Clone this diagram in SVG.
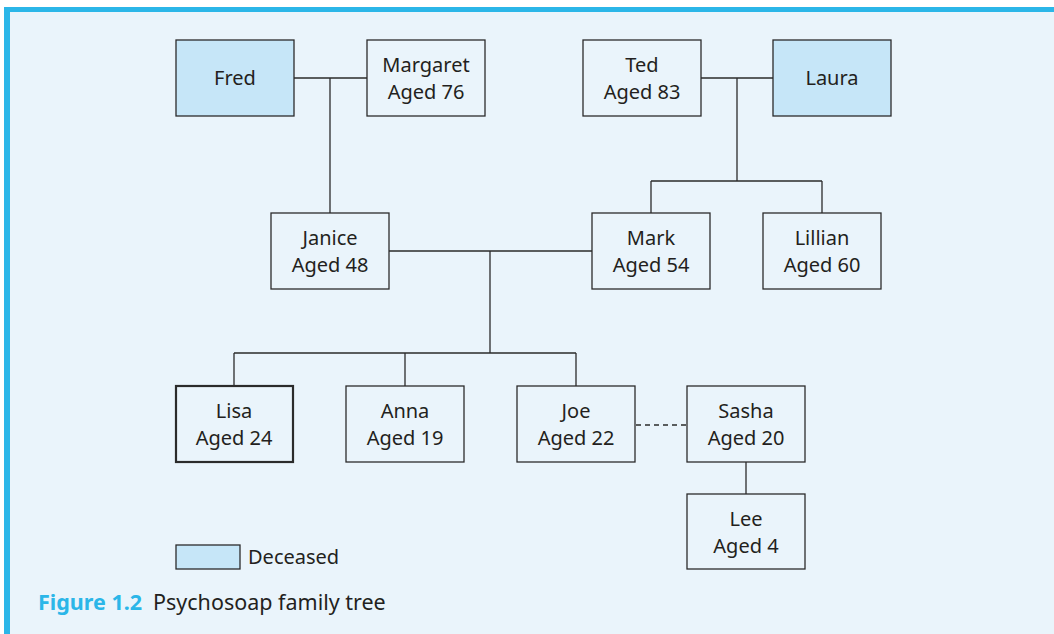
<svg xmlns="http://www.w3.org/2000/svg" width="1054" height="634" viewBox="0 0 1054 634">
  <style>
    .panel { fill: #EAF4FB; }
    .rule { fill: #2BB6E8; }
    .box { fill: #EAF4FB; stroke: #2B2B2B; stroke-width: 1.3; }
    .dead { fill: #C6E6F8; }
    .bold { stroke-width: 2.2; }
    .label { font-family: "Noto Sans", "Open Sans", sans-serif; font-size: 20px; fill: #231F20; text-anchor: middle; }
    .link { fill: none; stroke: #2B2B2B; stroke-width: 1.3; }
    .dash { stroke-dasharray: 5 4; }
    .key { font-family: "Noto Sans", "Open Sans", sans-serif; font-size: 20px; fill: #231F20; }
    .cap { font-family: "Noto Sans", "Open Sans", sans-serif; font-size: 21.5px; fill: #231F20; }
    .capnum { font-weight: bold; fill: #2BB6E8; }
  </style>

  <!-- page and panel -->
  <rect x="0" y="0" width="1054" height="634" fill="#FFFFFF"/>
  <rect class="panel" x="4" y="7" width="1050" height="627"/>
  <rect class="rule" x="4" y="7" width="1050" height="5"/>
  <rect class="rule" x="4" y="7" width="6" height="627"/>

  <!-- connectors -->
  <g id="connectors">
    <path class="link" d="M294 78 H367 M330 78 V213"/>
    <path class="link" d="M701 78 H773 M737 78 V181 M651 181 H822 M651 181 V213 M822 181 V213"/>
    <path class="link" d="M389 251 H592 M490 251 V353 M234 353 H576 M234 353 V386 M405 353 V386 M576 353 V386"/>
    <path class="link dash" d="M636 425 H687"/>
    <path class="link" d="M746 462 V494"/>
  </g>

  <!-- generation 1 -->
  <g id="fred">
    <rect class="box dead" x="176" y="40" width="118" height="76"/>
    <text class="label" x="235" y="85">Fred</text>
  </g>
  <g id="margaret">
    <rect class="box" x="367" y="40" width="118" height="76"/>
    <text class="label" x="426" y="72">Margaret</text>
    <text class="label" x="426" y="99">Aged 76</text>
  </g>
  <g id="ted">
    <rect class="box" x="583" y="40" width="118" height="76"/>
    <text class="label" x="642" y="72">Ted</text>
    <text class="label" x="642" y="99">Aged 83</text>
  </g>
  <g id="laura">
    <rect class="box dead" x="773" y="40" width="118" height="76"/>
    <text class="label" x="832" y="85">Laura</text>
  </g>

  <!-- generation 2 -->
  <g id="janice">
    <rect class="box" x="271" y="213" width="118" height="76"/>
    <text class="label" x="330" y="245">Janice</text>
    <text class="label" x="330" y="272">Aged 48</text>
  </g>
  <g id="mark">
    <rect class="box" x="592" y="213" width="118" height="76"/>
    <text class="label" x="651" y="245">Mark</text>
    <text class="label" x="651" y="272">Aged 54</text>
  </g>
  <g id="lillian">
    <rect class="box" x="763" y="213" width="118" height="76"/>
    <text class="label" x="822" y="245">Lillian</text>
    <text class="label" x="822" y="272">Aged 60</text>
  </g>

  <!-- generation 3 -->
  <g id="lisa">
    <rect class="box bold" x="176" y="386" width="117" height="76"/>
    <text class="label" x="234" y="418">Lisa</text>
    <text class="label" x="234" y="445">Aged 24</text>
  </g>
  <g id="anna">
    <rect class="box" x="346" y="386" width="118" height="76"/>
    <text class="label" x="405" y="418">Anna</text>
    <text class="label" x="405" y="445">Aged 19</text>
  </g>
  <g id="joe">
    <rect class="box" x="517" y="386" width="118" height="76"/>
    <text class="label" x="576" y="418">Joe</text>
    <text class="label" x="576" y="445">Aged 22</text>
  </g>
  <g id="sasha">
    <rect class="box" x="687" y="386" width="118" height="76"/>
    <text class="label" x="746" y="418">Sasha</text>
    <text class="label" x="746" y="445">Aged 20</text>
  </g>

  <!-- generation 4 -->
  <g id="lee">
    <rect class="box" x="687" y="494" width="118" height="75"/>
    <text class="label" x="746" y="526">Lee</text>
    <text class="label" x="746" y="553">Aged 4</text>
  </g>

  <!-- key -->
  <g id="legend">
    <rect class="box dead" x="176" y="545" width="64" height="24"/>
    <text class="key" x="248" y="564">Deceased</text>
  </g>

  <!-- caption -->
  <g id="caption">
    <text class="cap" x="38" y="610"><tspan class="capnum">Figure 1.2</tspan><tspan x="153">Psychosoap family tree</tspan></text>
  </g>
</svg>
